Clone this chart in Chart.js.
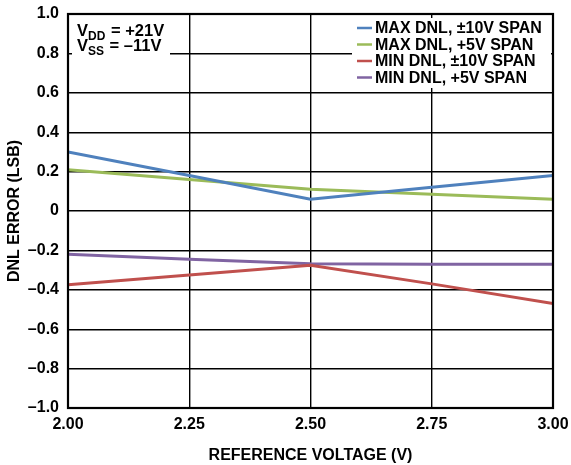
<!DOCTYPE html>
<html>
<head>
<meta charset="utf-8">
<script src="https://cdn.jsdelivr.net/npm/chart.js@4"></script>
<style>
  html, body { margin: 0; padding: 0; background: #fff; }
  #wrap { width: 571px; height: 465px; }
</style>
</head>
<body>
<div id="wrap"><canvas id="chart"></canvas></div>
<script>
// Reference voltage points (V)
const refVoltage = [2.00, 2.25, 2.50, 2.75, 3.00];

// DNL error (LSB) per series
const maxDnl10 = [0.30, 0.18, 0.06, 0.12, 0.18];
const maxDnl5 = [0.21, 0.16, 0.11, 0.085, 0.06];
const minDnl10 = [-0.375, -0.325, -0.275, -0.37, -0.47];
const minDnl5 = [-0.22, -0.245, -0.268, -0.27, -0.27];

const seriesLabels = [
  "MAX DNL, \u00B110V SPAN",
  "MAX DNL, +5V SPAN",
  "MIN DNL, \u00B110V SPAN",
  "MIN DNL, +5V SPAN",
];
const seriesColors = ["#4f81bd", "#9bbb59", "#c0504d", "#8064a2"];
const seriesValues = [maxDnl10, maxDnl5, minDnl10, minDnl5];

const FONT = "'Liberation Sans', Arial, sans-serif";

const toPoints = (ys) => ys.map((y, i) => ({ x: refVoltage[i], y: y }));

// Supply annotation + legend box + outer frame
const decorations = {
  id: "decorations",
  afterDraw(chart) {
    const ctx = chart.ctx;
    const a = chart.chartArea;
    ctx.save();

    // supply text box
    ctx.fillStyle = "#fff";
    ctx.fillRect(a.left + 4, a.top + 3, 98, 44);
    ctx.fillStyle = "#000";
    ctx.textBaseline = "alphabetic";
    const drawSupply = (sub, rest, y) => {
      let x = a.left + 9;
      ctx.font = "bold 16.5px " + FONT;
      ctx.fillText("V", x, y);
      x += ctx.measureText("V").width;
      ctx.font = "bold 12px " + FONT;
      ctx.fillText(sub, x, y + 4);
      x += ctx.measureText(sub).width + 1;
      ctx.font = "bold 16.5px " + FONT;
      ctx.fillText(rest, x, y);
    };
    drawSupply("DD", " = +21V", a.top + 22);
    drawSupply("SS", " = \u201311V", a.top + 37);

    // legend box
    ctx.fillStyle = "#fff";
    ctx.fillRect(352, a.top + 4, 199, 70);
    ctx.textBaseline = "middle";
    ctx.font = "bold 16px " + FONT;
    chart.data.datasets.forEach((ds, i) => {
      const y = a.top + 14 + i * 16.5;
      ctx.strokeStyle = ds.borderColor;
      ctx.lineWidth = 2.5;
      ctx.beginPath();
      ctx.moveTo(357, y);
      ctx.lineTo(372, y);
      ctx.stroke();
      ctx.fillStyle = "#000";
      ctx.fillText(ds.label, 375, y + 1);
    });

    // frame
    ctx.strokeStyle = "#000";
    ctx.lineWidth = 2.2;
    ctx.strokeRect(a.left, a.top, a.right - a.left, a.bottom - a.top);
    ctx.restore();
  },
};

new Chart(document.getElementById("chart"), {
  type: "line",
  data: {
    datasets: seriesValues.map((vals, i) => ({
      label: seriesLabels[i],
      data: toPoints(vals),
      borderColor: seriesColors[i],
      backgroundColor: seriesColors[i],
      borderWidth: 3,
      pointRadius: 0,
      tension: 0,
    })),
  },
  options: {
    responsive: true,
    maintainAspectRatio: false,
    animation: false,
    devicePixelRatio: 1,
    layout: {
      padding: { top: 14, right: 18, bottom: 0, left: 0 },
    },
    plugins: {
      legend: { display: false },
      tooltip: { enabled: false },
    },
    scales: {
      x: {
        type: "linear",
        min: 2,
        max: 3,
        afterFit: (s) => {
          s.height = 57;
          s.paddingLeft = 0;
          s.paddingRight = 0;
        },
        grid: { color: "#000", lineWidth: 1.4, drawTicks: false },
        border: { display: false },
        ticks: {
          stepSize: 0.25,
          padding: 7,
          color: "#000",
          font: { family: FONT, size: 16, weight: "bold" },
          callback: (v) => v.toFixed(2),
        },
        title: {
          display: true,
          text: "REFERENCE VOLTAGE (V)",
          color: "#000",
          font: { family: FONT, size: 16, weight: "bold" },
          padding: { top: 7, bottom: 0 },
        },
      },
      y: {
        min: -1,
        max: 1,
        afterFit: (s) => {
          s.width = 68;
          s.paddingTop = 0;
          s.paddingBottom = 0;
        },
        grid: { color: "#000", lineWidth: 1.4, drawTicks: false },
        border: { display: false },
        ticks: {
          stepSize: 0.2,
          padding: 9,
          color: "#000",
          font: { family: FONT, size: 16, weight: "bold" },
          callback: (v) => {
            const r = Math.round(v * 10) / 10;
            if (r === 0) return "0";
            return r < 0 ? "\u2013" + Math.abs(r).toFixed(1) : r.toFixed(1);
          },
        },
        title: {
          display: true,
          text: "DNL ERROR (LSB)",
          color: "#000",
          font: { family: FONT, size: 16, weight: "bold" },
          padding: { top: 5, bottom: 0 },
        },
      },
    },
  },
  plugins: [decorations],
});
</script>
</body>
</html>
